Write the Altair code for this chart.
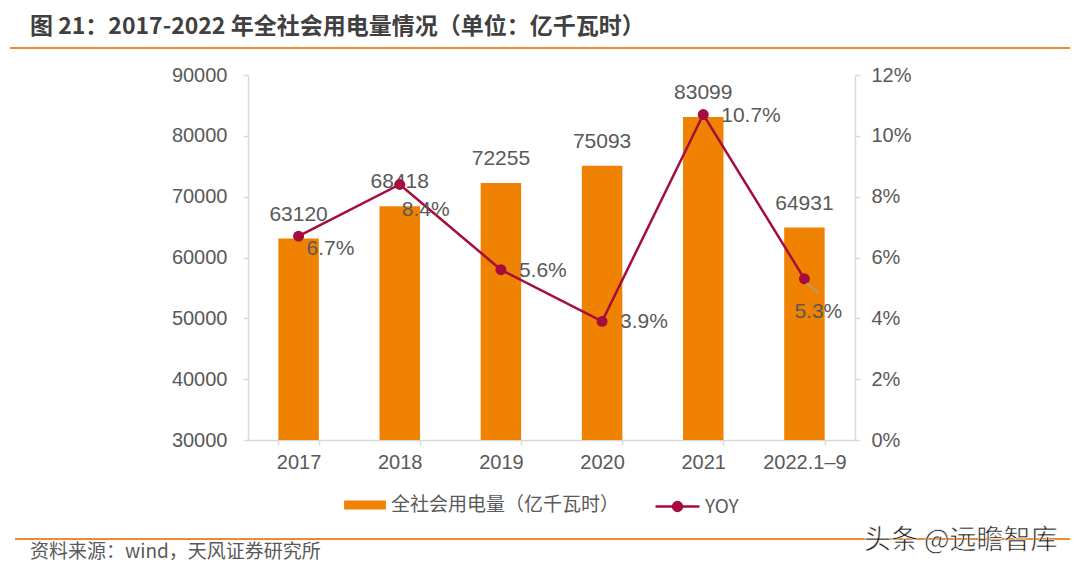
import altair as alt
import pandas as pd

# ---------------- data ----------------
YEARS = ["2017", "2018", "2019", "2020", "2021", "2022.1–9"]
POWER = [63120, 68418, 72255, 75093, 83099, 64931]
YOY = [6.7, 8.4, 5.6, 3.9, 10.7, 5.3]
LEFT_TICKS = [30000, 40000, 50000, 60000, 70000, 80000, 90000]
RIGHT_TICKS = [0, 2, 4, 6, 8, 10, 12]
BAR_NAME = "全社会用电量（亿千瓦时）"
LINE_NAME = "YOY"
TITLE = "图 21：2017-2022 年全社会用电量情况（单位：亿千瓦时）"
SOURCE = "资料来源：wind，天风证券研究所"
WATERMARK = "头条 @远瞻智库"

# ---------------- styles ----------------
ORANGE = "#EF8200"
RED = "#A50D3E"
GRAY_TEXT = "#595959"
AXIS_GRAY = "#D9D9D9"
RULE_ORANGE = "#EE8A32"
FONT = "Liberation Sans, Noto Sans CJK SC, sans-serif"
CJK = "Noto Sans CJK SC, sans-serif"

RECT_PATH = "M-0.95,-0.2L0.95,-0.2L0.95,0.2L-0.95,0.2Z"


def circle(r):
    return f"M{r},0A{r},{r} 0 1,1 -{r},0A{r},{r} 0 1,1 {r},0"


LINE_PATH = "M-1,0L1,0" + circle(0.2) + circle(0.13) + circle(0.06)

df = pd.DataFrame({"year": YEARS, "power": POWER, "yoy": YOY})
df["yoy_label"] = [f"{v:.1f}%" for v in YOY]
df["bar_series"] = BAR_NAME
df["line_series"] = LINE_NAME

x_enc = alt.X(
    "year:N", sort=YEARS,
    scale=alt.Scale(paddingInner=0.6, paddingOuter=0.3),
    axis=alt.Axis(title=None, labelAngle=0, tickBand="extent", labelPadding=7,
                  labelFontSize=20, labelColor=GRAY_TEXT, labelFont=FONT),
)
y_left = alt.Y(
    "power:Q", scale=alt.Scale(domain=[30000, 90000], nice=False, zero=False),
    axis=alt.Axis(orient="left", title=None, values=LEFT_TICKS, format="d",
                  labelPadding=16, labelFontSize=20, labelColor=GRAY_TEXT,
                  labelFont=FONT),
)
y_right = alt.Y(
    "yoy:Q", scale=alt.Scale(domain=[0, 12], nice=False),
    axis=alt.Axis(orient="right", title=None, values=RIGHT_TICKS,
                  labelExpr="datum.value + '%'", labelPadding=11,
                  labelFontSize=20, labelColor=GRAY_TEXT, labelFont=FONT),
)

common_legend = dict(
    title=None, orient="none", legendY=408, direction="horizontal",
    padding=0, symbolSize=1936, labelOffset=4,
    labelFontSize=19, labelColor=GRAY_TEXT, labelFont=CJK, labelLimit=400,
)
bar_legend = alt.Legend(legendX=95, symbolType=RECT_PATH,
                        symbolFillColor=ORANGE, symbolStrokeWidth=0,
                        **common_legend)
line_legend = alt.Legend(legendX=406, symbolType=LINE_PATH,
                         symbolStrokeColor=RED, symbolStrokeWidth=2.5,
                         **common_legend)

base = alt.Chart(df)

bars = base.mark_bar(clip=True).encode(
    x=x_enc, y=y_left,
    fill=alt.Fill("bar_series:N", scale=alt.Scale(domain=[BAR_NAME], range=[ORANGE]),
                  legend=bar_legend),
)
bar_labels = base.mark_text(dy=-24, baseline="middle", fontSize=21,
                            color=GRAY_TEXT, font=FONT).encode(
    x=x_enc, y=y_left, text=alt.Text("power:Q", format="d"))

bar_group = alt.layer(bars, bar_labels)

line = base.mark_line(strokeWidth=2.5).encode(
    x=x_enc, y=y_right,
    stroke=alt.Stroke("line_series:N", scale=alt.Scale(domain=[LINE_NAME], range=[RED]),
                      legend=line_legend),
)
points = base.mark_point(filled=True, size=120, opacity=1, color=RED).encode(
    x=x_enc, y=y_right)


def yoy_text(years, dx, dy):
    return base.transform_filter(
        alt.FieldOneOfPredicate(field="year", oneOf=years)
    ).mark_text(align="left", baseline="middle", dx=dx, dy=dy, fontSize=21,
                color=GRAY_TEXT, font=FONT).encode(
        x=x_enc, y=y_right, text="yoy_label:N")


leader = base.transform_filter(
    alt.FieldEqualPredicate(field="year", equal=YEARS[-1])
).mark_point(shape="M0.15,0.3L1,1", size=784, filled=False,
             stroke="#A6A6A6", strokeWidth=1.5, opacity=1).encode(
    x=x_enc, y=y_right)

line_group = alt.layer(
    line, points, leader,
    yoy_text([YEARS[0]], 8, 13),
    yoy_text([YEARS[1]], 2, 25),
    yoy_text(YEARS[2:5], 18, 1),
    yoy_text([YEARS[5]], -10, 33),
)

deco_df = pd.DataFrame({"title": [TITLE], "source": [SOURCE], "wm": [WATERMARK]})
deco = alt.Chart(deco_df)
title_text = deco.mark_text(align="left", baseline="middle", fontSize=23,
                            fontWeight="bold", color="#404040", font=CJK).encode(
    x=alt.value(-218), y=alt.value(-48), text="title:N")
top_rule = deco.mark_rule(color=RULE_ORANGE, strokeWidth=2).encode(
    x=alt.value(-238), x2=alt.value(822), y=alt.value(-27))
bottom_rule = deco.mark_rule(color=RULE_ORANGE, strokeWidth=2).encode(
    x=alt.value(-233), x2=alt.value(822), y=alt.value(464))
source_text = deco.mark_text(align="left", baseline="middle", fontSize=19,
                             color=GRAY_TEXT, font=CJK).encode(
    x=alt.value(-218), y=alt.value(477), text="source:N")
wm_text = deco.mark_text(align="left", baseline="middle", fontSize=27,
                         color="#1A1A1A", font=CJK, stroke="white",
                         strokeWidth=0.6).encode(
    x=alt.value(616), y=alt.value(466), text="wm:N")

chart = alt.layer(
    bar_group, line_group,
    title_text, top_rule, bottom_rule, source_text, wm_text,
).resolve_scale(y="independent").properties(
    width=607, height=365,
    autosize=alt.AutoSizeParams(type="none"),
    padding={"left": 240, "top": 67, "right": 217, "bottom": 125},
    background="white",
).configure_view(stroke=None).configure_axis(
    grid=False, domainColor=AXIS_GRAY, domainWidth=1.5,
    tickColor=AXIS_GRAY, tickSize=5, tickWidth=1.5,
)

chart.save("out.html", embed_options={"renderer": "svg", "actions": False})
